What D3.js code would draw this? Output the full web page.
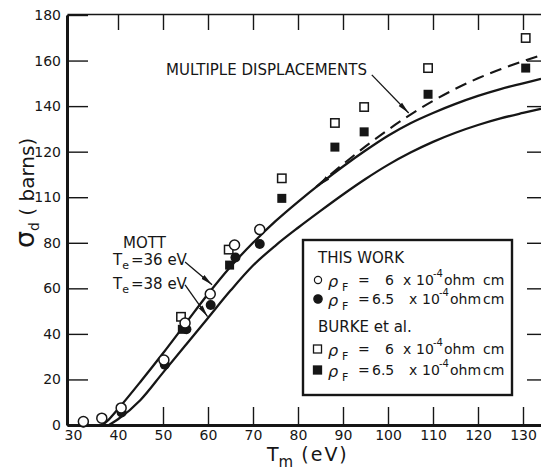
<!DOCTYPE html>
<html>
<head>
<meta charset="utf-8">
<script src="https://cdn.jsdelivr.net/npm/d3@7"></script>
<style>
  body { margin: 0; background: #fff; }
  svg text { font-family: "DejaVu Sans", sans-serif; fill: #161616; }
  .axis path, .axis line { stroke: #161616; }
</style>
</head>
<body>
<svg id="chart" width="541" height="473"></svg>
<script>
// Tick values and labels (the "110" at 100 is as printed on the original)
const yTicks = [0, 20, 40, 60, 80, 100, 120, 140, 160, 180];
const yTickLabels = ["0", "20", "40", "60", "80", "110", "120", "140", "160", "180"];
const xTicks = [30, 40, 50, 60, 70, 80, 90, 100, 110, 120, 130];

// Mott curves (T_m in eV, sigma_d in barns)
const mott36T = [36.5, 38, 40, 45, 50, 55, 60, 65, 70, 75, 80, 85, 90, 95, 100, 105, 110, 115, 120, 125, 130, 134];
const mott36S = [0, 2.5, 7, 19, 31.5, 44.5, 57.5, 69.5, 80, 89.5, 98, 106, 113.5, 120.5, 127, 132.5, 137, 141, 144.5, 147.5, 150, 152];
const mott38T = [38, 40, 45, 50, 55, 60, 65, 70, 75, 80, 85, 90, 95, 100, 105, 110, 115, 120, 125, 130, 134];
const mott38S = [0, 2.5, 11, 23, 35, 47, 59, 70, 78.8, 86.6, 94, 101.2, 108, 114.2, 119.6, 124.3, 128.3, 131.7, 134.6, 137, 138.8];

// Multiple displacements (dashed)
const multT = [84, 90, 95, 100, 105, 110, 115, 120, 125, 130, 134];
const multS = [104.5, 114.5, 122.3, 129.6, 136.3, 142.3, 147.6, 152.2, 156.2, 159.7, 162.3];

// Measured points [T_m, sigma_d]
const thisWork6 = [[32.3, 1.5], [36.4, 3], [40.7, 7.5], [50.2, 28.5], [54.9, 44.8], [60.5, 57.5], [65.9, 79], [71.5, 85.8]];
const thisWork65 = [[32.3, 1], [40.8, 5.5], [50.4, 26.5], [55.2, 42], [60.6, 52.7], [66.1, 73.5], [71.5, 79.5]];
const burke6 = [[54, 47.5], [64.6, 77], [76.4, 108.3], [88.2, 132.6], [94.7, 139.6], [108.9, 156.7], [130.6, 169.9]];
const burke65 = [[54.3, 42], [64.8, 70.2], [76.4, 99.5], [88.2, 122], [94.7, 128.7], [108.9, 145.2], [130.6, 156.7]];

const svg = d3.select("#chart");

// scales
const x = d3.scaleLinear().domain([28.667, 134]).range([67, 541]);
const y = d3.scaleLinear().domain([0, 180]).range([425, 15]);

// arrow head
svg.append("defs")
  .append("marker")
  .attr("id", "arr")
  .attr("viewBox", "0 0 12 6")
  .attr("refX", 12)
  .attr("refY", 3)
  .attr("markerWidth", 12)
  .attr("markerHeight", 6)
  .attr("markerUnits", "userSpaceOnUse")
  .attr("orient", "auto")
  .append("path")
  .attr("d", "M0,0.6 L12,3 L0,5.4 Z")
  .attr("fill", "#161616");

// Axes
const gLeft = svg.append("g")
  .attr("class", "axis")
  .attr("transform", "translate(67,0)")
  .call(d3.axisLeft(y).tickValues(yTicks).tickFormat((d, i) => yTickLabels[i])
    .tickSize(-21).tickSizeOuter(0).tickPadding(6));
gLeft.select(".domain").attr("stroke-width", 3);
gLeft.selectAll(".tick line").attr("stroke-width", 1.4);
gLeft.selectAll("text").style("font-size", "14px");

svg.append("g")
  .attr("class", "axis")
  .attr("transform", "translate(546,0)")
  .call(d3.axisRight(y).tickValues(yTicks.slice(1, -1)).tickFormat("").tickSize(-19).tickSizeOuter(0))
  .selectAll(".tick line").attr("stroke-width", 1.4);

const gBottom = svg.append("g")
  .attr("class", "axis")
  .attr("transform", "translate(0,425)")
  .call(d3.axisBottom(x).tickValues(xTicks).tickSize(-18).tickSizeOuter(0).tickPadding(5));
gBottom.select(".domain").attr("stroke-width", 3);
gBottom.selectAll(".tick line").attr("stroke-width", 1.4).attr("opacity", (d) => (d < 45 ? 0 : 1));
gBottom.selectAll("text").style("font-size", "14px");

const gTop = svg.append("g")
  .attr("class", "axis")
  .attr("transform", "translate(0,14)")
  .call(d3.axisTop(x).tickValues(xTicks.slice(1)).tickFormat("").tickSize(-16).tickSizeOuter(0));
gTop.select(".domain").attr("stroke-width", 1.6);
gTop.selectAll(".tick line").attr("stroke-width", 1.4);

// Curves
const line = d3.line()
  .x((d) => x(d[0]))
  .y((d) => y(d[1]))
  .curve(d3.curveMonotoneX);

const zip = (a, b) => a.map((v, i) => [v, b[i]]);

svg.append("path")
  .datum(zip(mott36T, mott36S))
  .attr("d", line)
  .attr("fill", "none")
  .attr("stroke", "#161616")
  .attr("stroke-width", 2.3);

svg.append("path")
  .datum(zip(mott38T, mott38S))
  .attr("d", line)
  .attr("fill", "none")
  .attr("stroke", "#161616")
  .attr("stroke-width", 2.3);

svg.append("path")
  .datum(zip(multT, multS))
  .attr("d", line)
  .attr("fill", "none")
  .attr("stroke", "#161616")
  .attr("stroke-width", 2.1)
  .attr("stroke-dasharray", "12,7");

// Points: squares first, then circles
svg.selectAll(".bfs")
  .data(burke65)
  .enter()
  .append("rect")
  .attr("x", (d) => x(d[0]) - 4.5)
  .attr("y", (d) => y(d[1]) - 4.5)
  .attr("width", 9)
  .attr("height", 9)
  .attr("fill", "#161616");

svg.selectAll(".bos")
  .data(burke6)
  .enter()
  .append("rect")
  .attr("x", (d) => x(d[0]) - 4.2)
  .attr("y", (d) => y(d[1]) - 4.2)
  .attr("width", 8.4)
  .attr("height", 8.4)
  .attr("fill", "#fff")
  .attr("stroke", "#161616")
  .attr("stroke-width", 1.5);

svg.selectAll(".tfc")
  .data(thisWork65)
  .enter()
  .append("circle")
  .attr("cx", (d) => x(d[0]))
  .attr("cy", (d) => y(d[1]))
  .attr("r", 5)
  .attr("fill", "#161616");

svg.selectAll(".toc")
  .data(thisWork6)
  .enter()
  .append("circle")
  .attr("cx", (d) => x(d[0]))
  .attr("cy", (d) => y(d[1]))
  .attr("r", 5)
  .attr("fill", "#fff")
  .attr("stroke", "#161616")
  .attr("stroke-width", 1.5);

// Annotations
function arrow(t0, s0, t1, s1) {
  svg.append("line")
    .attr("x1", x(t0)).attr("y1", y(s0))
    .attr("x2", x(t1)).attr("y2", y(s1))
    .attr("stroke", "#161616")
    .attr("stroke-width", 1.3)
    .attr("marker-end", "url(#arr)");
}

svg.append("text")
  .attr("x", 166).attr("y", 75)
  .style("font-size", "15px")
  .attr("textLength", 201)
  .text("MULTIPLE DISPLACEMENTS");
arrow(96.4, 153.7, 104.6, 137);
arrow(86.6, 108.6, 84.6, 105);

svg.append("text")
  .attr("x", 123).attr("y", 248)
  .style("font-size", "15px")
  .text("MOTT");

const te = [["36", 265], ["38", 289]];
te.forEach((r) => {
  const t = svg.append("text").attr("x", 113).attr("y", r[1]).style("font-size", "15px");
  t.append("tspan").text("T");
  t.append("tspan").attr("dy", 4).style("font-size", "11px").text("e");
  t.append("tspan").attr("dy", -4).attr("dx", 2).text("=" + r[0] + " eV");
});
arrow(54.9, 71.6, 60.9, 61.6);
arrow(54.9, 61.5, 59.9, 47.6);

// Legend
svg.append("rect")
  .attr("x", 303).attr("y", 240)
  .attr("width", 209).attr("height", 155)
  .attr("fill", "#fff")
  .attr("stroke", "#161616")
  .attr("stroke-width", 2.4);

const legendRows = [
  { label: "THIS WORK", y: 263 },
  { sym: "oc", val: "6", y: 285 },
  { sym: "fc", val: "6.5", y: 304 },
  { label: "BURKE et al.", y: 332 },
  { sym: "os", val: "6", y: 354 },
  { sym: "fs", val: "6.5", y: 375 },
];

legendRows.forEach((r) => {
  if (r.label) {
    svg.append("text").attr("x", 318).attr("y", r.y).style("font-size", "15px").text(r.label);
    return;
  }
  const cy = r.y - 5;
  if (r.sym === "oc" || r.sym === "fc") {
    svg.append("circle")
      .attr("cx", 318).attr("cy", cy)
      .attr("r", r.sym === "oc" ? 3.6 : 4.2)
      .attr("fill", r.sym === "oc" ? "#fff" : "#161616")
      .attr("stroke", "#161616").attr("stroke-width", 1.2);
  } else {
    svg.append("rect")
      .attr("x", 313.5).attr("y", cy - 4)
      .attr("width", 8).attr("height", 8)
      .attr("fill", r.sym === "os" ? "#fff" : "#161616")
      .attr("stroke", "#161616").attr("stroke-width", 1.3);
  }
  const off = r.val === "6.5" ? 6 : 0;
  svg.append("text").attr("x", 328).attr("y", r.y + 2)
    .style("font-size", "16px").style("font-style", "italic").text("ρ");
  svg.append("text").attr("x", 342).attr("y", r.y + 6)
    .style("font-size", "11px").text("F");
  svg.append("text").attr("x", 358).attr("y", r.y).style("font-size", "14px").text("=");
  svg.append("text").attr("x", r.val === "6.5" ? 372 : 385).attr("y", r.y).style("font-size", "14px").text(r.val);
  svg.append("text").attr("x", 403 + off).attr("y", r.y).style("font-size", "14px").text("x");
  svg.append("text").attr("x", 416 + off).attr("y", r.y).style("font-size", "14px").text("10");
  svg.append("text").attr("x", 433 + off).attr("y", r.y - 8).style("font-size", "10px").text("-4");
  svg.append("text").attr("x", 444 + off).attr("y", r.y).style("font-size", "14px").text("ohm");
  svg.append("text").attr("x", 483).attr("y", r.y).style("font-size", "14px").text("cm");
});

// Axis titles
const yt = svg.append("text")
  .attr("transform", "translate(34,248) rotate(-90)")
  .style("font-size", "20px");
yt.append("tspan").style("font-size", "27px").text("σ");
yt.append("tspan").attr("dy", 5).style("font-size", "14px").text("d");
yt.append("tspan").attr("dy", -5).text(" ( barns)");

const xt = svg.append("text")
  .attr("x", 267).attr("y", 461)
  .style("font-size", "19px");
xt.append("tspan").text("T");
xt.append("tspan").attr("dy", 6).style("font-size", "15px").text("m");
xt.append("tspan").attr("dy", -6).style("letter-spacing", "2px").text(" (eV)");
</script>
</body>
</html>
